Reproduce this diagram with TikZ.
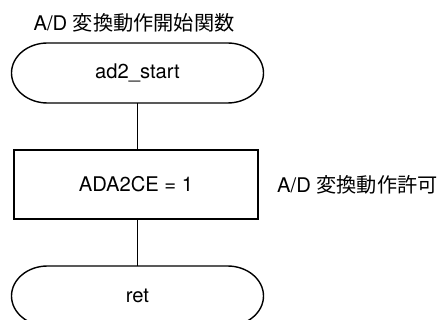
\documentclass[tikz,border=0pt]{standalone}
\usepackage{fontspec}
\setmainfont{TeX Gyre Heros}
\newfontfamily\cjk{Noto Sans CJK JP}
\begin{document}
\begin{tikzpicture}[x=1pt,y=1pt,
  every node/.style={font=\fontsize{20.2}{24}\selectfont},
  ln/.style={line width=1.4pt,black},
  term/.style={inner sep=0pt,outer sep=0pt,minimum width=252pt,minimum height=60pt},
  procbox/.style={draw,line width=1.4pt,inner sep=0pt,outer sep=0pt,minimum width=244pt,minimum height=69pt},
  lbl/.style={inner sep=0pt}]
\useasboundingbox (0,0) rectangle (439,-320);
\newcommand\termshape[1]{\draw[ln] ([xshift=36pt]#1.north west) -- ([xshift=-36pt]#1.north east) arc[start angle=90,end angle=-90,x radius=36pt,y radius=30pt] -- ([xshift=36pt]#1.south west) arc[start angle=270,end angle=90,x radius=36pt,y radius=30pt] -- cycle;}
\node[lbl] (title) at (134,-23) {A/D {\cjk 変換動作開始関数}};
\node[term] (start) at (137.5,-73) {ad2\_start};
\termshape{start}
\node[procbox] (set) at (136,-184.5) {ADA2CE = 1};
\node[lbl,anchor=west] (cmt) at (277,-185) {A/D {\cjk 変換動作許可}};
\node[term] (ret) at (137.5,-296) {ret};
\termshape{ret}
\draw[ln] (start.south) -- (start.south |- set.north);
\draw[ln] (start.south |- set.south) -- (ret.north);
\end{tikzpicture}
\end{document}
